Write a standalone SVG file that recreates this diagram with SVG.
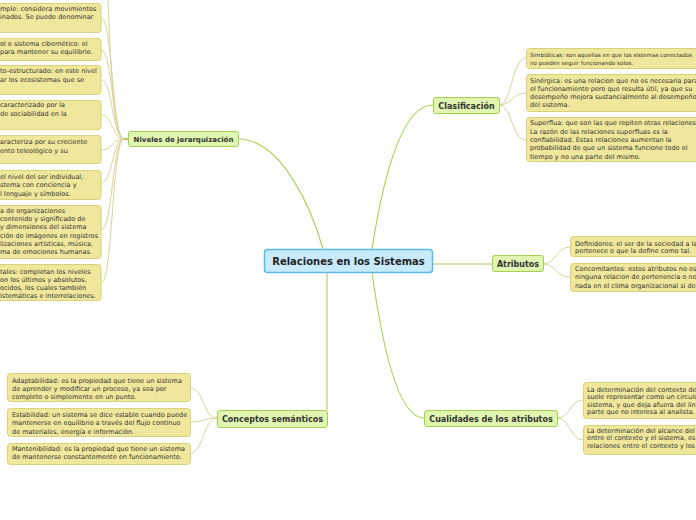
<svg xmlns="http://www.w3.org/2000/svg" width="696" height="520" viewBox="0 0 696 520">
<style>
.leaf rect{fill:#efe89c;stroke:#d9d27c;stroke-width:1}
.leaf text{font-family:"DejaVu Sans",Verdana,sans-serif;font-size:6.5px;fill:#333}
.sm text{font-size:5.6px}
.br rect{fill:#dff5b0;stroke:#a6cf50;stroke-width:1}
.br text{font-family:"DejaVu Sans",Verdana,sans-serif;font-weight:bold;font-size:8px;fill:#333;text-anchor:middle}
.main path{fill:none;stroke:#a8cf52;stroke-width:1.1}
.sub path{fill:none;stroke:#d8d59a;stroke-width:1}
</style>
<rect width="696" height="520" fill="#fff"/>
<g id="connectors">
<g class="main">
<path d="M238 139 C282 139 312 210 323 249"/>
<path d="M372 249 C382 185 400 105 433 105"/>
<path d="M432 264 C460 264 470 264 492 264"/>
<path d="M372 272 C382 345 398 418 424 418"/>
<path d="M327 272 L327 410"/>
</g>
<g class="sub">
<path d="M124 139 C112 139 110 40 108 0"/>
<path d="M124 139 C112 139 113 18 101 18"/>
<path d="M124 139 C112 139 113 50 101 50"/>
<path d="M124 139 C112 139 113 80 101 80"/>
<path d="M124 139 C112 139 113 115 101 115"/>
<path d="M124 139 C112 139 113 150 101 150"/>
<path d="M124 139 C112 139 113 183 101 183"/>
<path d="M124 139 C112 139 113 230 101 230"/>
<path d="M124 139 C112 139 113 283 101 283"/>
<path d="M124 139 L128 139" style="stroke:#b6a83a;stroke-width:1.5"/>
<path d="M499 105 C512 105 512 58 526 58"/>
<path d="M499 105 C512 105 512 93 526 93"/>
<path d="M499 105 C512 105 512 140 526 140"/>
<path d="M543 264 C556 264 556 247 570 247"/>
<path d="M543 264 C556 264 556 277 570 277"/>
<path d="M557 418 C570 418 570 400 583 400"/>
<path d="M557 418 C570 418 570 440 583 440"/>
<path d="M217 418 C203 418 204 388 190 388"/>
<path d="M217 418 C203 418 204 422 190 422"/>
<path d="M217 418 C203 418 204 453 190 453"/>
</g>
</g>

<g id="central">
<rect x="264.5" y="249.5" width="168" height="23" rx="3" fill="#c8ebfb" stroke="#5cb9e8" stroke-width="1.5"/>
<text x="348.5" y="265" text-anchor="middle" font-family="DejaVu Sans,Verdana,sans-serif" font-weight="bold" font-size="10px" fill="#222">Relaciones en los Sistemas</text>
</g>

<g id="niveles" class="br"><rect x="128.5" y="131.5" width="110" height="15" rx="2.5"/><text x="183.5" y="141.5" style="font-size:7px">Niveles de jerarquización</text></g>
<g id="clasificacion" class="br"><rect x="433.5" y="97.5" width="66" height="16" rx="2.5"/><text x="466.5" y="108.5">Clasificación</text></g>
<g id="atributos" class="br"><rect x="492.5" y="255.5" width="51" height="16" rx="2.5"/><text x="518" y="266.5">Atributos</text></g>
<g id="cualidades" class="br"><rect x="424.5" y="410.5" width="133" height="16" rx="2.5"/><text x="491" y="421.5">Cualidades de los atributos</text></g>
<g id="conceptos" class="br"><rect x="217.5" y="410.5" width="110" height="17" rx="2.5"/><text x="272.5" y="422">Conceptos semánticos</text></g>

<g id="niv1" class="leaf"><rect x="-10" y="3.5" width="111" height="29" rx="3"/><text x="0"><tspan x="0" y="10.5">mple: considera movimientos</tspan><tspan x="0" y="18.5">inados. Se puede denominar</tspan></text></g>
<g id="niv2" class="leaf"><rect x="-10" y="38.5" width="111" height="22" rx="3"/><text><tspan x="0" y="46">ol o sistema cibernético: el</tspan><tspan x="0" y="54">para mantener su equilibrio.</tspan></text></g>
<g id="niv3" class="leaf"><rect x="-10" y="65.5" width="111" height="29" rx="3"/><text><tspan x="0" y="73">to-estructurado: en este nivel</tspan><tspan x="0" y="81.5">ar los ecosistemas que se</tspan></text></g>
<g id="niv4" class="leaf"><rect x="-10" y="100.5" width="111" height="29" rx="3"/><text><tspan x="0" y="107">caracterizado por la</tspan><tspan x="0" y="116">de sociabilidad en la</tspan></text></g>
<g id="niv5" class="leaf"><rect x="-10" y="135.5" width="111" height="28" rx="3"/><text><tspan x="0" y="144">aracteriza por su creciente</tspan><tspan x="0" y="152.5">ento teleológico y su</tspan></text></g>
<g id="niv6" class="leaf"><rect x="-10" y="170.5" width="111" height="29" rx="3"/><text><tspan x="0" y="178.5">el nivel del ser individual,</tspan><tspan x="0" y="187">stema con conciencia y</tspan><tspan x="0" y="195.5">l lenguaje y símbolos.</tspan></text></g>
<g id="niv7" class="leaf"><rect x="-10" y="205.5" width="111" height="53" rx="3"/><text><tspan x="0" y="212.5">a de organizaciones</tspan><tspan x="0" y="221">contenido y significado de</tspan><tspan x="0" y="229">y dimensiones del sistema</tspan><tspan x="0" y="237.5">ción de imágenes en registros</tspan><tspan x="0" y="246">lizaciones artísticas, música,</tspan><tspan x="0" y="254">ma de emociones humanas.</tspan></text></g>
<g id="niv8" class="leaf"><rect x="-10" y="264.5" width="111" height="36" rx="3"/><text><tspan x="0" y="273.5">tales: completan los niveles</tspan><tspan x="0" y="282">on los últimos y absolutos,</tspan><tspan x="0" y="290">ocidos, los cuales también</tspan><tspan x="0" y="298">istemáticas e interrelaciones.</tspan></text></g>

<g id="cla1" class="leaf sm"><rect x="526.5" y="48.5" width="180" height="20" rx="3"/><text><tspan x="530" y="57">Simbióticas: son aquellas en que los sistemas conectados</tspan><tspan x="530" y="64.5">no pueden seguir funcionando solos.</tspan></text></g>
<g id="cla2" class="leaf"><rect x="526.5" y="74.5" width="180" height="37" rx="3"/><text><tspan x="530" y="82.5">Sinérgica: es una relacion que no es necesaria para</tspan><tspan x="530" y="91">el funcionamiento pero que resulta útil, ya que su</tspan><tspan x="530" y="99">desempeño mejora sustancialmente al desempeño</tspan><tspan x="530" y="107">del sistema.</tspan></text></g>
<g id="cla3" class="leaf"><rect x="526.5" y="117.5" width="180" height="44" rx="3"/><text><tspan x="530" y="125">Superflua: que son las que repiten otras relaciones.</tspan><tspan x="530" y="133.5">La razón de las relaciones superfluas es la</tspan><tspan x="530" y="141.5">confiabilidad. Estas relaciones aumentan la</tspan><tspan x="530" y="150">probabilidad de que un sistema funcione todo el</tspan><tspan x="530" y="158.5">tiempo y no una parte del mismo.</tspan></text></g>

<g id="atr1" class="leaf"><rect x="570.5" y="236.5" width="140" height="20" rx="3"/><text><tspan x="575" y="245.5">Definidores: el ser de la sociedad a la</tspan><tspan x="575" y="253">pertenece o que la define como tal.</tspan></text></g>
<g id="atr2" class="leaf"><rect x="570.5" y="263.5" width="140" height="28" rx="3"/><text><tspan x="575" y="271">Concomitantes: estos atributos no es</tspan><tspan x="575" y="279">ninguna relacion de pertenencia o no</tspan><tspan x="575" y="287.5">nada en el clima organizacional si des</tspan></text></g>

<g id="cua1" class="leaf"><rect x="583.5" y="382.5" width="130" height="36" rx="3"/><text><tspan x="587" y="391.5">La determinación del contexto de</tspan><tspan x="587" y="399">suele representar como un circulo</tspan><tspan x="587" y="407">sistema, y que deja afuera del lin</tspan><tspan x="587" y="414">parte que no interesa al analista.</tspan></text></g>
<g id="cua2" class="leaf"><rect x="583.5" y="425.5" width="130" height="29" rx="3"/><text><tspan x="587" y="432.5">La determinación del alcance del</tspan><tspan x="587" y="440">entre el contexto y el sistema, es</tspan><tspan x="587" y="448">relaciones entre el contexto y los</tspan></text></g>

<g id="con1" class="leaf"><rect x="7.5" y="373.5" width="183" height="28" rx="3"/><text><tspan x="12" y="382.5">Adaptabilidad: es la propiedad que tiene un sistema</tspan><tspan x="12" y="391">de aprender y modificar un proceso, ya sea por</tspan><tspan x="12" y="399">completo o simplemente en un punto.</tspan></text></g>
<g id="con2" class="leaf"><rect x="7.5" y="408.5" width="183" height="28" rx="3"/><text><tspan x="12" y="417">Estabilidad: un sistema se dice estable cuando puede</tspan><tspan x="12" y="425">mantenerse en equilibrio a través del flujo continuo</tspan><tspan x="12" y="433.5">de materiales, energía e información.</tspan></text></g>
<g id="con3" class="leaf"><rect x="7.5" y="443.5" width="183" height="21" rx="3"/><text><tspan x="12" y="451">Mantenibilidad: es la propiedad que tiene un sistema</tspan><tspan x="12" y="458.5">de mantenerse constantemente en funcionamiento.</tspan></text></g>
</svg>
